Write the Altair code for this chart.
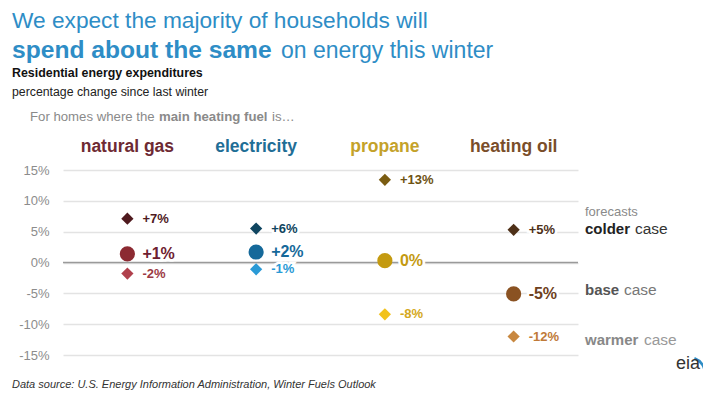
import altair as alt
import pandas as pd

FONT = "Liberation Sans"

fuels = ["natural gas", "electricity", "propane", "heating oil"]
header_colors = ["#6e2a33", "#1f6e96", "#c4a22a", "#7a4e2a"]

cases = ["colder", "base", "warmer"]
colder_values = [7.1, 5.5, 13.4, 5.3]
base_values = [1.4, 1.7, 0.3, -5.1]
warmer_values = [-1.8, -1.1, -8.4, -12.0]
colder_labels = ["+7%", "+6%", "+13%", "+5%"]
base_labels = ["+1%", "+2%", "0%", "-5%"]
warmer_labels = ["-2%", "-1%", "-8%", "-12%"]

colder_colors = ["#4f1a1e", "#0f4560", "#7a5c12", "#4e3018"]
base_colors = ["#8c2a32", "#15699a", "#c49a10", "#8a5222"]
warmer_colors = ["#b0404c", "#2a9ad6", "#f2c21c", "#c88840"]
colder_label_colors = ["#4f1a1e", "#0f4560", "#6e5212", "#4e3018"]
base_label_colors = ["#6e2030", "#15699a", "#c49a10", "#6e4020"]
warmer_label_colors = ["#9c3a45", "#2a9ad6", "#d4a820", "#c07a38"]

y_ticks = [-15, -10, -5, 0, 5, 10, 15]

rows = []
for case, vals, labs, cols, lcols in [
    ("colder", colder_values, colder_labels, colder_colors, colder_label_colors),
    ("base", base_values, base_labels, base_colors, base_label_colors),
    ("warmer", warmer_values, warmer_labels, warmer_colors, warmer_label_colors),
]:
    for f, v, l, c, lc in zip(fuels, vals, labs, cols, lcols):
        rows.append({"fuel": f, "case": case, "value": v, "label": l,
                     "color": c, "lcolor": lc,
                     "shape": "circle" if case == "base" else "diamond",
                     "msize": 230 if case == "base" else 150,
                     "fs": 16 if case == "base" else 13})
df = pd.DataFrame(rows)
hdr = pd.DataFrame({"fuel": fuels, "color": header_colors})

x_enc = alt.X("fuel:N", scale=alt.Scale(type="point", domain=fuels, padding=0.5), axis=None)
y_scale = alt.Scale(domain=[-15, 15], nice=False)
y_axis = alt.Axis(values=y_ticks, labelExpr="datum.value + '%'", title=None,
                  ticks=False, tickSize=0, domain=False, labelPadding=14,
                  labelOverlap=False, labelBound=False, labelFlush=False,
                  labelColor="#8c8c8c", labelFont=FONT, labelFontSize=13,
                  gridColor="#e3e3e3", gridWidth=1.5)
y_enc = alt.Y("value:Q", scale=y_scale, axis=y_axis, title=None)

base = alt.Chart(df)

zero_rule = alt.Chart(pd.DataFrame({"value": [0]})).mark_rule(color="#9a9a9a", strokeWidth=1.5).encode(
    y=y_enc)

halo = base.mark_text(align="left", baseline="middle", dx=15, fontWeight="bold", font=FONT,
                      stroke="white", strokeWidth=5, fill="white").encode(
    x=x_enc, y=y_enc, text="label:N",
    size=alt.Size("fs:Q", scale=None, legend=None))

points = base.mark_point(filled=True, opacity=1).encode(
    x=x_enc, y=y_enc,
    color=alt.Color("color:N", scale=None, legend=None),
    shape=alt.Shape("shape:N", scale=None, legend=None),
    size=alt.Size("msize:Q", scale=None, legend=None))

labels = base.mark_text(align="left", baseline="middle", dx=15, fontWeight="bold", font=FONT).encode(
    x=x_enc, y=y_enc, text="label:N",
    color=alt.Color("lcolor:N", scale=None, legend=None),
    size=alt.Size("fs:Q", scale=None, legend=None))

headers = alt.Chart(hdr).mark_text(baseline="alphabetic", fontWeight="bold", fontSize=17.5, font=FONT).encode(
    x=x_enc, y=alt.value(-18), text="fuel:N",
    color=alt.Color("color:N", scale=None, legend=None))


def note(text, x, y, size=13, color="#333", weight="normal", style="normal", baseline="alphabetic"):
    return alt.Chart(pd.DataFrame({"t": [text]})).mark_text(
        align="left", baseline=baseline, fontSize=size, color=color, fontWeight=weight,
        fontStyle=style, font=FONT).encode(x=alt.value(x), y=alt.value(y), text="t:N")


title_blue = "#2e8dc6"
notes = [
    note("We expect the majority of households will", -51, -142, 22.7, title_blue),
    note("spend about the same", -51, -112, 24.6, title_blue, "bold"),
    note("on energy this winter", 218, -112, 23, title_blue),
    note("Residential energy expenditures", -51, -93, 12.4, "#111", "bold"),
    note("percentage change since last winter", -51, -74, 12.3, "#222"),
    note("For homes where the", -33, -49, 13.2, "#8a8a8a"),
    note("main heating fuel", 96, -49, 13.2, "#8a8a8a", "bold"),
    note("is\u2026", 209, -49, 13.2, "#8a8a8a"),
    note("forecasts", 522, 42, 13, "#8a8a8a", baseline="middle"),
    note("colder", 522, 59, 15, "#222", "bold", baseline="middle"),
    note("case", 572, 59, 15.5, "#333", baseline="middle"),
    note("base", 522, 120, 15, "#555", "bold", baseline="middle"),
    note("case", 561, 120, 15.5, "#777", baseline="middle"),
    note("warmer", 522, 170, 15, "#888", "bold", baseline="middle"),
    note("case", 581, 170, 15.5, "#999", baseline="middle"),
    note("Data source: U.S. Energy Information Administration, Winter Fuels Outlook", -51, 218, 11, "#333",
         style="italic"),
    note("eia", 613, 199, 18, "#333"),
]

logo_arc = alt.Chart(pd.DataFrame({"a": [1]})).mark_arc(
    radius=17, radius2=14.5, theta=0.35, theta2=1.7, color="#2e8dc6").encode(
    x=alt.value(626), y=alt.value(203))

chart = alt.layer(zero_rule, halo, points, labels, headers, logo_arc, *notes).properties(
    width=515, height=185,
    background="white",
    autosize=alt.AutoSizeParams(type="none"),
    padding={"left": 55, "top": 162, "right": 125, "bottom": 36},
).configure_view(strokeWidth=0, stroke="transparent").configure_axis(labelOverlap=False)

chart.save("out.html", embed_options={"renderer": "svg", "actions": False})
